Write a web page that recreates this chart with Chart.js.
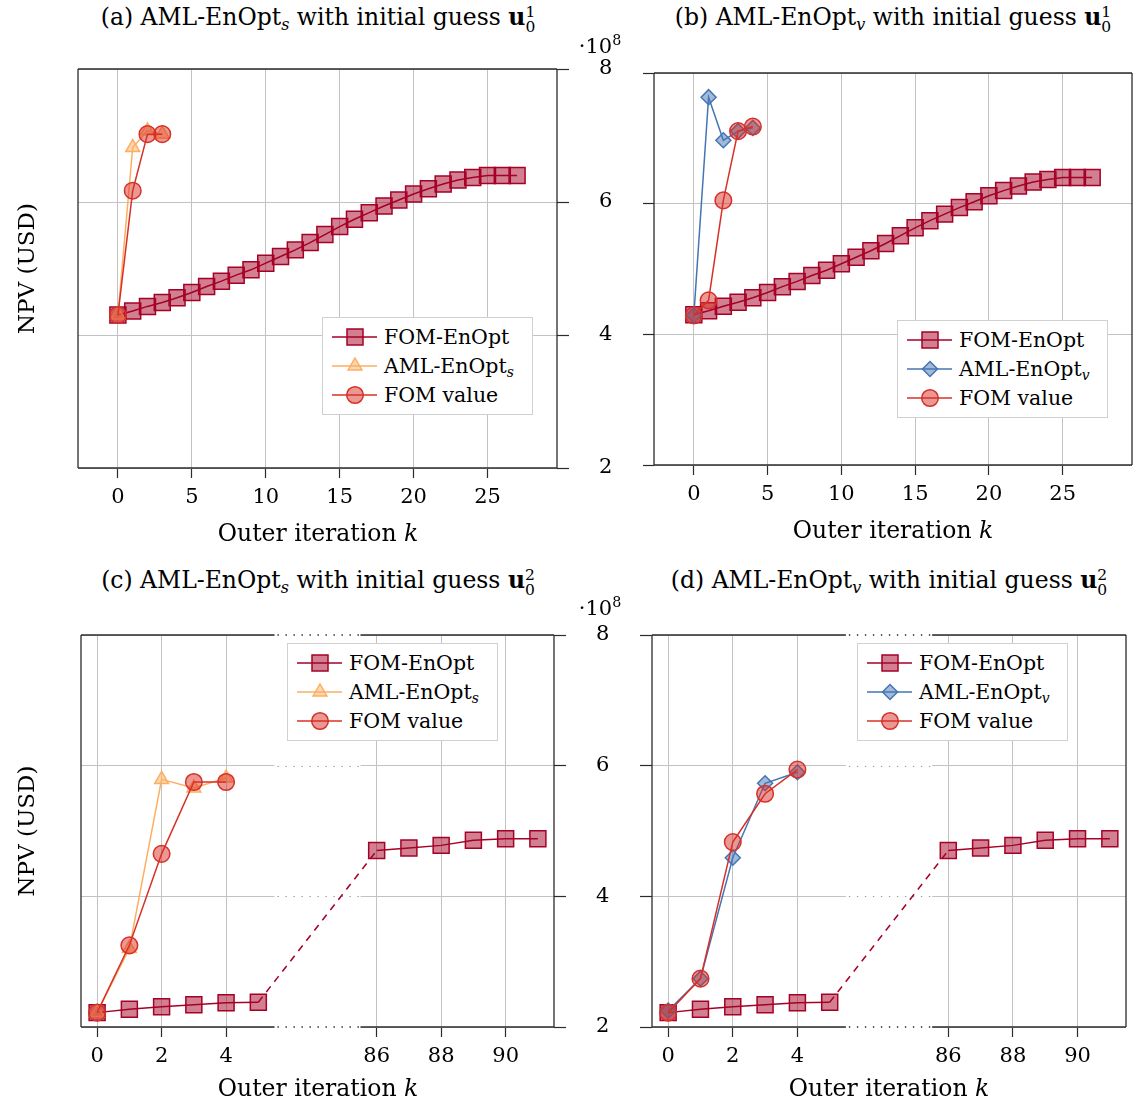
<!DOCTYPE html>
<html>
<head>
<meta charset="utf-8">
<script src="https://cdn.jsdelivr.net/npm/chart.js@4.4.1/dist/chart.umd.min.js"></script>
<style>
  body { margin: 0; background: #fff; }
  #page { position: relative; width: 1136px; height: 1106px; font-family: 'DejaVu Serif', serif; color: #000; overflow: hidden; }
  canvas { position: absolute; }
  .lbl { position: absolute; transform: translate(-50%, -50%); white-space: nowrap; font-size: 23.5px; line-height: 1; }
  .ss { display: inline-block; vertical-align: -0.45em; font-size: 0.66em; line-height: 0.95; }
  .ss span { display: block; }
  sub { font-size: 0.68em; vertical-align: -0.32em; line-height: 0; }
  sup { font-size: 0.68em; vertical-align: 0.55em; line-height: 0; }
  .legend { position: absolute; width: 211px; height: 98px; background: #fff; border: 1px solid #d0d0d0; box-sizing: border-box; font-size: 20.5px; }
  .legend .row { position: absolute; left: 0; height: 28px; display: flex; align-items: center; white-space: nowrap; }
  .legend svg { width: 48px; height: 28px; margin-right: 4px; }
</style>
</head>
<body>
<div id="page">
  <canvas id="ca" width="640" height="520" style="left:0;top:40px"></canvas>
  <canvas id="cb" width="496" height="520" style="left:640px;top:40px"></canvas>
  <canvas id="cc" width="640" height="506" style="left:0;top:600px"></canvas>
  <canvas id="cd" width="496" height="506" style="left:640px;top:600px"></canvas>

  <div class="lbl" style="left:318px;top:20px">(a) AML-EnOpt<sub><i>s</i></sub> with initial guess <b>u</b><span class="ss"><span>1</span><span>0</span></span></div>
  <div class="lbl" style="left:893px;top:20px">(b) AML-EnOpt<sub><i>v</i></sub> with initial guess <b>u</b><span class="ss"><span>1</span><span>0</span></span></div>
  <div class="lbl" style="left:318px;top:583px">(c) AML-EnOpt<sub><i>s</i></sub> with initial guess <b>u</b><span class="ss"><span>2</span><span>0</span></span></div>
  <div class="lbl" style="left:889px;top:583px">(d) AML-EnOpt<sub><i>v</i></sub> with initial guess <b>u</b><span class="ss"><span>2</span><span>0</span></span></div>

  <div class="lbl" style="left:318px;top:534px">Outer iteration <i>k</i></div>
  <div class="lbl" style="left:893px;top:531px">Outer iteration <i>k</i></div>
  <div class="lbl" style="left:318px;top:1089px">Outer iteration <i>k</i></div>
  <div class="lbl" style="left:889px;top:1089px">Outer iteration <i>k</i></div>

  <div class="lbl" style="left:600px;top:46px;font-size:21px">·10<sup>8</sup></div>
  <div class="lbl" style="left:600px;top:608px;font-size:21px">·10<sup>8</sup></div>
</div>

<script>
// NPV values are in units of 1e8 USD
const yTicks = [2, 4, 6, 8];
const xTicksLong = [0, 5, 10, 15, 20, 25];
const xTicksBroken = [0, 2, 4, 86, 88, 90];

// initial guess u0^1
const kLong = [0, 1, 2, 3, 4, 5, 6, 7, 8, 9, 10, 11, 12, 13, 14, 15, 16, 17, 18, 19, 20, 21, 22, 23, 24, 25, 26, 27];
const fomEnOpt1 = [4.30, 4.36, 4.43, 4.49, 4.56, 4.64, 4.73, 4.81, 4.90, 4.98, 5.08, 5.18, 5.28, 5.39,
  5.51, 5.63, 5.74, 5.84, 5.94, 6.03, 6.12, 6.20, 6.27, 6.33, 6.37, 6.40, 6.40, 6.40];
const kA = [0, 1, 2, 3];
const amlS1 = [4.30, 6.82, 7.07, 7.02];
const fomValA = [4.30, 6.17, 7.02, 7.02];
const kB = [0, 1, 2, 3, 4];
const amlV1 = [4.29, 7.63, 6.97, 7.11, 7.16];
const fomValB = [4.29, 4.52, 6.05, 7.11, 7.18];

// initial guess u0^2
const kBroken = [0, 1, 2, 3, 4, 5, 86, 87, 88, 89, 90, 91];
const fomEnOpt2 = [2.22, 2.27, 2.31, 2.34, 2.37, 2.38, 4.70, 4.74, 4.78, 4.86, 4.88, 4.88];
const kCD = [0, 1, 2, 3, 4];
const amlS2 = [2.22, 3.20, 5.79, 5.66, 5.81];
const fomValC = [2.22, 3.25, 4.65, 5.75, 5.75];
const amlV2 = [2.25, 2.74, 4.59, 5.73, 5.90];
const fomValD = [2.22, 2.74, 4.83, 5.57, 5.94];

const GRID = '#c2c2c2';
const AXIS = '#2b2b2b';
const GAP = 2.67; // width of the axis break, in x units

Chart.defaults.font.family = "'DejaVu Serif', serif";
Chart.defaults.color = '#000';

const styles = {
  fom:  { label: 'FOM-EnOpt', html: 'FOM-EnOpt', color: '#a50026', fill: 'rgba(165,0,38,0.5)', shape: 'rect', radius: 11.3, order: 3 },
  amlS: { label: 'AML-EnOpt_s', html: 'AML-EnOpt<sub><i>s</i></sub>', color: '#fdae61', fill: 'rgba(253,174,97,0.5)', shape: 'triangle', radius: 8, order: 2 },
  amlV: { label: 'AML-EnOpt_v', html: 'AML-EnOpt<sub><i>v</i></sub>', color: '#4575b4', fill: 'rgba(69,117,180,0.5)', shape: 'rectRot', radius: 7.5, order: 2 },
  val:  { label: 'FOM value', html: 'FOM value', color: '#d73027', fill: 'rgba(215,48,39,0.5)', shape: 'circle', radius: 8.3, order: 1 }
};

function brokenX(k) {
  return k <= 5.5 ? k : k - 85.5 + 5.5 + GAP;
}

function dataset(st, ks, vals, mapX) {
  return {
    label: st.label,
    data: vals.map((v, i) => ({ x: mapX(ks[i]), y: v })),
    borderColor: st.color,
    backgroundColor: st.fill,
    pointStyle: st.shape,
    pointRadius: st.radius,
    pointHoverRadius: st.radius,
    pointBorderWidth: 1.5,
    borderWidth: 1.5,
    tension: 0,
    order: st.order,
    segment: { borderDash: c => (c.p1.parsed.x - c.p0.parsed.x > 2 ? [7, 6] : undefined) }
  };
}

function noPad(s) {
  s.paddingTop = 0; s.paddingBottom = 0; s.paddingLeft = 0; s.paddingRight = 0;
}

// frame, plus the dotted part of a broken x axis
const framePlugin = {
  id: 'frame',
  beforeDatasetsDraw(chart, args, opts) {
    const { ctx, chartArea: a, scales } = chart;
    const line = (x0, y0, x1, y1) => { ctx.beginPath(); ctx.moveTo(x0, y0); ctx.lineTo(x1, y1); ctx.stroke(); };
    ctx.save();
    let g0 = null, g1 = null;
    if (opts.gap) {
      g0 = scales.x.getPixelForValue(opts.gap[0]);
      g1 = scales.x.getPixelForValue(opts.gap[1]);
      ctx.fillStyle = '#fff';
      ctx.fillRect(g0, a.top - 2, g1 - g0, a.bottom - a.top + 4);
      ctx.setLineDash([1.4, 6.6]);
      ctx.lineWidth = 1;
      ctx.strokeStyle = '#9a9a9a';
      yTicks.filter(v => v > 2 && v < 8).forEach(v => {
        const y = Math.round(scales.y.getPixelForValue(v)) + 0.5;
        line(g0 + 3, y, g1, y);
      });
      ctx.strokeStyle = AXIS;
      ctx.lineWidth = 1.3;
      line(g0 + 3, a.top, g1, a.top);
      line(g0 + 3, a.bottom, g1, a.bottom);
      ctx.setLineDash([]);
    }
    ctx.strokeStyle = AXIS;
    ctx.lineWidth = 1.3;
    line(a.left, a.top, a.left, a.bottom);
    line(a.right, a.top, a.right, a.bottom);
    if (opts.gap) {
      line(a.left, a.top, g0, a.top);
      line(g1, a.top, a.right, a.top);
      line(a.left, a.bottom, g0, a.bottom);
      line(g1, a.bottom, a.right, a.bottom);
    } else {
      line(a.left, a.top, a.right, a.top);
      line(a.left, a.bottom, a.right, a.bottom);
    }
    ctx.restore();
  }
};

function makePanel(id, opt) {
  const mapX = opt.broken ? brokenX : (k => k);
  const tickText = {};
  opt.xTicks.forEach(k => { tickText[mapX(k).toFixed(3)] = String(k); });

  const scales = {
    x: {
      type: 'linear', min: opt.xMin, max: opt.xMax,
      afterBuildTicks: s => { s.ticks = opt.xTicks.map(k => ({ value: mapX(k) })); },
      ticks: { callback: v => tickText[Number(v).toFixed(3)], font: { size: 21 }, color: '#000', padding: 7, maxRotation: 0, autoSkip: false },
      grid: { color: GRID, lineWidth: 1, tickLength: 10, tickColor: AXIS, tickWidth: 1.2 },
      border: { display: false },
      afterFit: s => { s.height = opt.bottomH; noPad(s); }
    },
    y: {
      position: 'left', min: 2, max: 8,
      afterBuildTicks: s => { s.ticks = yTicks.map(v => ({ value: v })); },
      ticks: { display: false },
      grid: { color: GRID, lineWidth: 1, drawTicks: !!opt.leftTick, tickLength: opt.leftTick || 0, tickColor: AXIS, tickWidth: 1.2 },
      border: { display: false },
      title: { display: !!opt.yTitle, text: 'NPV (USD)', font: { size: 23 }, color: '#000', padding: { top: 14, bottom: 0 } },
      afterFit: s => { s.width = opt.leftW; noPad(s); }
    }
  };
  if (opt.rightW) {
    scales.y2 = {
      position: 'right', min: 2, max: 8,
      afterBuildTicks: s => { s.ticks = yTicks.map(v => ({ value: v })); },
      ticks: { font: { size: 21 }, color: '#000', padding: 30 },
      grid: { drawOnChartArea: false, tickLength: 12, tickColor: AXIS, tickWidth: 1.2 },
      border: { display: false },
      afterFit: s => { s.width = opt.rightW; noPad(s); }
    };
  }

  new Chart(document.getElementById(id), {
    type: 'line',
    data: { datasets: opt.series.map(s => dataset(s[0], s[1], s[2], mapX)) },
    options: {
      responsive: false,
      animation: false,
      devicePixelRatio: 1,
      events: [],
      layout: { padding: opt.padding, autoPadding: false },
      scales,
      plugins: {
        legend: { display: false },
        tooltip: { enabled: false },
        frame: { gap: opt.broken ? [5.5, 5.5 + GAP] : null }
      }
    },
    plugins: [framePlugin]
  });

  // legend box inside the plot
  const box = document.createElement('div');
  box.className = 'legend';
  box.style.left = opt.legend[0] + 'px';
  box.style.top = opt.legend[1] + 'px';
  opt.series.forEach((s, i) => {
    const st = s[0];
    const row = document.createElement('div');
    row.className = 'row';
    row.style.top = (5 + i * 29) + 'px';
    row.style.left = '9px';
    let mark = '';
    if (st.shape === 'rect') mark = '<rect x="15" y="6" width="16" height="16"/>';
    else if (st.shape === 'triangle') mark = '<polygon points="23,6 29.9,18 16.1,18"/>';
    else if (st.shape === 'rectRot') mark = '<polygon points="23,6.5 30.5,14 23,21.5 15.5,14"/>';
    else mark = '<circle cx="23" cy="14" r="8.3"/>';
    row.innerHTML = '<svg viewBox="0 0 48 28"><line x1="0" y1="14" x2="45" y2="14" stroke="' + st.color + '" stroke-width="1.5"/>' +
      '<g fill="' + st.fill + '" stroke="' + st.color + '" stroke-width="1.5">' + mark + '</g></svg>' +
      '<span>' + st.html + '</span>';
    box.appendChild(row);
  });
  document.getElementById('page').appendChild(box);
}

makePanel('ca', {
  xMin: -2.7, xMax: 29.7, xTicks: xTicksLong,
  padding: { top: 29, left: 0, right: 0, bottom: 0 },
  leftW: 78, rightW: 83, bottomH: 92, yTitle: true,
  series: [[styles.fom, kLong, fomEnOpt1], [styles.amlS, kA, amlS1], [styles.val, kA, fomValA]],
  legend: [322, 317]
});
makePanel('cb', {
  xMin: -2.7, xMax: 29.7, xTicks: xTicksLong,
  padding: { top: 33, left: 0, right: 4, bottom: 0 },
  leftW: 14, leftTick: 11, bottomH: 95,
  series: [[styles.fom, kLong, fomEnOpt1], [styles.amlV, kB, amlV1], [styles.val, kB, fomValB]],
  legend: [897, 320]
});
makePanel('cc', {
  broken: true, xMin: -0.5, xMax: 11.5 + GAP, xTicks: xTicksBroken,
  padding: { top: 35, left: 0, right: 0, bottom: 0 },
  leftW: 81, rightW: 86, bottomH: 79, yTitle: true,
  series: [[styles.fom, kBroken, fomEnOpt2], [styles.amlS, kCD, amlS2], [styles.val, kCD, fomValC]],
  legend: [287, 643]
});
makePanel('cd', {
  broken: true, xMin: -0.5, xMax: 11.5 + GAP, xTicks: xTicksBroken,
  padding: { top: 35, left: 0, right: 10, bottom: 0 },
  leftW: 12, leftTick: 12, bottomH: 79,
  series: [[styles.fom, kBroken, fomEnOpt2], [styles.amlV, kCD, amlV2], [styles.val, kCD, fomValD]],
  legend: [857, 643]
});
</script>
</body>
</html>
